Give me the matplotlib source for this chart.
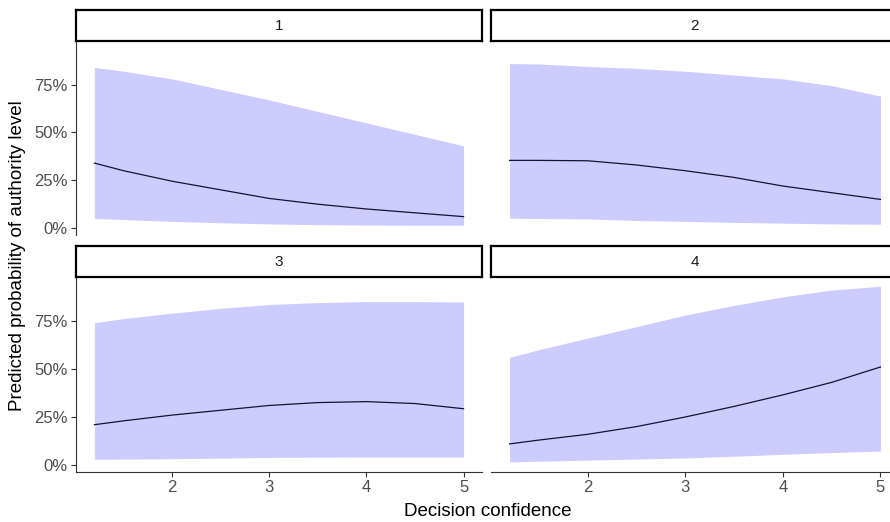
import numpy as np
import matplotlib.pyplot as plt
from matplotlib.ticker import PercentFormatter

plt.rcParams['font.family'] = ['Liberation Sans', 'DejaVu Sans']

# data
confidence = [1.2, 1.5, 2.0, 2.5, 3.0, 3.5, 4.0, 4.5, 5.0]
panels = ['1', '2', '3', '4']

fit = {
    '1': [0.34, 0.30, 0.245, 0.20, 0.155, 0.125, 0.10, 0.08, 0.06],
    '2': [0.354, 0.354, 0.352, 0.33, 0.30, 0.265, 0.22, 0.185, 0.15],
    '3': [0.21, 0.23, 0.26, 0.285, 0.31, 0.325, 0.33, 0.32, 0.293],
    '4': [0.11, 0.13, 0.16, 0.20, 0.25, 0.305, 0.365, 0.43, 0.51],
}
lower = {
    '1': [0.05, 0.045, 0.035, 0.028, 0.022, 0.018, 0.016, 0.015, 0.015],
    '2': [0.052, 0.05, 0.048, 0.04, 0.035, 0.03, 0.026, 0.022, 0.02],
    '3': [0.03, 0.031, 0.033, 0.036, 0.04, 0.041, 0.042, 0.042, 0.042],
    '4': [0.016, 0.02, 0.026, 0.031, 0.037, 0.046, 0.056, 0.065, 0.073],
}
upper = {
    '1': [0.84, 0.82, 0.78, 0.725, 0.67, 0.61, 0.55, 0.49, 0.43],
    '2': [0.86, 0.858, 0.845, 0.835, 0.82, 0.80, 0.78, 0.745, 0.69],
    '3': [0.74, 0.762, 0.79, 0.815, 0.835, 0.845, 0.85, 0.85, 0.848],
    '4': [0.56, 0.60, 0.66, 0.72, 0.78, 0.83, 0.875, 0.91, 0.93],
}

x_ticks = [2, 3, 4, 5]
y_ticks = [0, 0.25, 0.5, 0.75]

fig = plt.figure(figsize=(8.9, 5.22), dpi=100)
W, H = 890, 522

# panel boxes in pixels: left, right, top, bottom
cols = [(76, 482), (491, 899)]
rows = [(41, 235), (277, 472)]
strip_h = 31

axis_grey = '#333333'
tick_grey = '#4d4d4d'

for i, name in enumerate(panels):
    r, c = divmod(i, 2)
    x0, x1 = cols[c]
    y0, y1 = rows[r]
    ax = fig.add_axes([x0 / W, 1 - y1 / H, (x1 - x0) / W, (y1 - y0) / H])
    ax.fill_between(confidence, lower[name], upper[name], color='#ccccff', lw=0)
    ax.plot(confidence, fit[name], color='#141430', lw=0.9)
    ax.set_xlim(1.01, 5.19)
    ax.set_ylim(-0.036, 0.978)
    ax.set_xticks(x_ticks)
    ax.set_yticks(y_ticks)
    ax.yaxis.set_major_formatter(PercentFormatter(1.0, decimals=0))
    for s in ['top', 'right']:
        ax.spines[s].set_visible(False)
    ax.spines['left'].set_color(axis_grey)
    ax.spines['bottom'].set_color(axis_grey)
    ax.tick_params(colors=axis_grey, labelcolor=tick_grey, labelsize=12, length=3.5,
                   width=0.8, pad=2.5)
    if r == 0:
        ax.spines['bottom'].set_visible(False)
        ax.tick_params(axis='x', bottom=False, labelbottom=False)
    if c == 1:
        ax.spines['left'].set_visible(False)
        ax.tick_params(axis='y', left=False, labelleft=False)

    # facet strip
    sax = fig.add_axes([x0 / W, 1 - y0 / H, (x1 - x0) / W, strip_h / H])
    sax.set_xticks([])
    sax.set_yticks([])
    for s in sax.spines.values():
        s.set_color('black')
        s.set_linewidth(1.6)
    sax.text(0.5, 0.5, name, ha='center', va='center', fontsize=11, color='#1a1a1a',
             transform=sax.transAxes)

fig.text(488 / W, 1 - 511 / H, 'Decision confidence', ha='center', va='center', fontsize=13.5)
fig.text(18 / W, 1 - 256 / H, 'Predicted probability of authority level', ha='center',
         va='center', rotation=90, fontsize=13.5)

fig.savefig('out.png', dpi=100)
